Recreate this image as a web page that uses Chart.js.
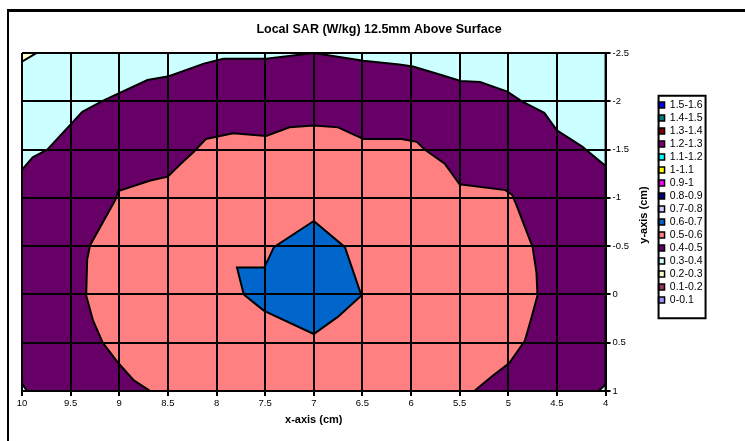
<!DOCTYPE html>
<html>
<head>
<meta charset="utf-8">
<title>Local SAR</title>
<script src="https://cdn.jsdelivr.net/npm/chart.js@4.4.1/dist/chart.umd.min.js"></script>
<style>
  html, body { margin: 0; padding: 0; background: #fff; }
  #wrap { position: relative; width: 745px; height: 441px; overflow: hidden; }
  #frame { position: absolute; left: 7px; top: 9px; right: -10px; bottom: -10px; border-top: 3px solid #000; border-left: 2px solid #000; pointer-events: none; }
</style>
</head>
<body>
<div id="wrap">
  <canvas id="sar-chart" width="745" height="441"></canvas>
  <div id="frame"></div>
</div>
<script>
// textos
const chartTitle = 'Local SAR (W/kg) 12.5mm Above Surface';
const xTitle = 'x-axis (cm)';
const yTitle = 'y-axis (cm)';

// eixos
const xTicks = [4, 4.5, 5, 5.5, 6, 6.5, 7, 7.5, 8, 8.5, 9, 9.5, 10];
const xTickLabels = ['4', '4.5', '5', '5.5', '6', '6.5', '7', '7.5', '8', '8.5', '9', '9.5', '10'];
const yTicks = [-2.5, -2, -1.5, -1, -0.5, 0, 0.5, 1];
const yTickLabels = ['-2.5', '-2', '-1.5', '-1', '-0.5', '0', '0.5', '1'];

// faixas da legenda (de cima para baixo)
const legendLabels = ['1.5-1.6', '1.4-1.5', '1.3-1.4', '1.2-1.3', '1.1-1.2', '1-1.1', '0.9-1', '0.8-0.9',
                      '0.7-0.8', '0.6-0.7', '0.5-0.6', '0.4-0.5', '0.3-0.4', '0.2-0.3', '0.1-0.2', '0-0.1'];
const legendColors = ['#0000FF', '#008080', '#800000', '#800080', '#00FFFF', '#FFFF00', '#FF00FF', '#000080',
                      '#CCCCFF', '#0066CC', '#FF8080', '#660066', '#CCFFFF', '#FFFFCC', '#993366', '#9999FF'];

// contornos (x em cm, y em cm)
// campo inteiro (faixa 0.3-0.4)
const fieldX = [10, 4, 4, 10];
const fieldY = [-2.5, -2.5, 1, 1];

// contorno 0.4 (borda superior da faixa 0.4-0.5)
const c04X = [10, 9.89, 9.74, 9.38, 9.16, 8.71, 8.49, 8.13, 7.93, 7.49, 7.0, 6.49, 6.12, 5.98, 5.68, 5.49, 5.29, 5.01, 4.86, 4.63, 4.5, 4.24, 4.0];
const c04Y = [-1.29, -1.42, -1.5, -1.89, -2.01, -2.22, -2.26, -2.39, -2.44, -2.44, -2.5, -2.42, -2.38, -2.36, -2.27, -2.21, -2.2, -2.1, -2.0, -1.88, -1.7, -1.53, -1.33];

// contorno 0.5
const c05X = [8.68, 8.85, 9.01, 9.17, 9.27, 9.34, 9.33, 9.3, 9.04, 9.01, 8.68, 8.5, 8.37, 8.23, 8.11, 7.83, 7.49, 7.25, 7.0, 6.75, 6.49, 6.1, 5.94, 5.86, 5.65, 5.5, 5.03, 4.96, 4.91, 4.75, 4.71, 4.7, 4.77, 4.83, 4.99, 5.17, 5.35];
const c05Y = [1, 0.89, 0.71, 0.5, 0.27, 0.01, -0.36, -0.51, -0.98, -1.07, -1.18, -1.22, -1.35, -1.48, -1.61, -1.67, -1.64, -1.73, -1.75, -1.73, -1.61, -1.61, -1.58, -1.5, -1.35, -1.14, -1.08, -1.03, -0.91, -0.49, -0.22, 0.01, 0.27, 0.48, 0.71, 0.85, 1];

// contorno 0.6
const c06X = [7.0, 6.68, 6.51, 6.75, 7.0, 7.51, 7.61, 7.72, 7.79, 7.51, 7.47, 7.41];
const c06Y = [-0.76, -0.49, 0.01, 0.23, 0.41, 0.17, 0.09, 0.0, -0.28, -0.28, -0.36, -0.49];

// cantos
const cornerTopLeftX = [10, 9.85, 10];
const cornerTopLeftY = [-2.5, -2.5, -2.41];
const cornerBottomLeftX = [10, 9.95, 10];
const cornerBottomLeftY = [0.92, 1, 1];
const cornerBottomRightX = [4, 4.07, 4];
const cornerBottomRightY = [0.93, 1, 1];

function colorOf(label) {
    return legendColors[legendLabels.indexOf(label)];
}

// monta o polígono fechado a partir dos arrays
function polygon(xs, ys) {
    const pts = xs.map((x, i) => ({x: x, y: ys[i]}));
    pts.push(pts[0]);
    return pts;
}

function region(label, pts, order) {
    return {
        label: label,
        data: pts,
        backgroundColor: colorOf(label),
        borderColor: '#000',
        borderWidth: 2,
        pointRadius: 0,
        tension: 0,
        fill: 'shape',
        order: order
    };
}

const font = '"Liberation Sans", Arial, sans-serif';
Chart.defaults.font.family = font;
Chart.defaults.color = '#000';

// título do eixo y (lido de baixo para cima)
const yTitlePlugin = {
    id: 'yTitle',
    afterDraw(chart) {
        const s = chart.scales.y;
        const ctx = chart.ctx;
        ctx.save();
        ctx.translate(s.left + 38, (s.top + s.bottom) / 2 - 7);
        ctx.rotate(-Math.PI / 2);
        ctx.font = 'bold 11px ' + font;
        ctx.fillStyle = '#000';
        ctx.textAlign = 'center';
        ctx.textBaseline = 'middle';
        ctx.fillText(yTitle, 0, 0);
        ctx.restore();
    }
};

// moldura da legenda
const legendFramePlugin = {
    id: 'legendFrame',
    afterDraw(chart) {
        const boxes = chart.legend && chart.legend.legendHitBoxes;
        if (!boxes || !boxes.length) return;
        const first = boxes[0];
        const last = boxes[boxes.length - 1];
        const ctx = chart.ctx;
        const top = first.top - 4;
        ctx.save();
        ctx.strokeStyle = '#000';
        ctx.lineWidth = 2;
        ctx.strokeRect(first.left, top, 47, last.top + last.height + 13 - top);
        ctx.restore();
    }
};

const ctx = document.getElementById('sar-chart').getContext('2d');
const chart = new Chart(ctx, {
    type: 'line',
    data: {
        datasets: [
            region('0.3-0.4', polygon(fieldX, fieldY), 6),
            region('0.4-0.5', polygon(c04X.concat([4, 10]), c04Y.concat([1, 1])), 5),
            region('0.5-0.6', polygon(c05X, c05Y), 4),
            region('0.6-0.7', polygon(c06X, c06Y), 3),
            region('0.2-0.3', polygon(cornerTopLeftX, cornerTopLeftY), 2),
            region('0.3-0.4', polygon(cornerBottomLeftX, cornerBottomLeftY), 1),
            region('0.3-0.4', polygon(cornerBottomRightX, cornerBottomRightY), 1)
        ]
    },
    options: {
        responsive: false,
        animation: false,
        events: [],
        layout: {
            padding: {left: 22, right: 9, top: 8, bottom: 13}
        },
        plugins: {
            title: {
                display: true,
                text: chartTitle,
                font: {size: 12.5, weight: 'bold'},
                color: '#000',
                padding: {top: 14, bottom: 16}
            },
            legend: {
                display: true,
                position: 'right',
                align: 'start',
                title: {
                    display: true,
                    text: '',
                    font: {size: 10},
                    padding: {top: 77.25, bottom: 0}
                },
                labels: {
                    boxWidth: 6,
                    boxHeight: 6,
                    padding: 2.5,
                    font: {size: 10.5},
                    color: '#000',
                    generateLabels: () => legendLabels.map((text, i) => ({
                        text: text,
                        fillStyle: legendColors[i],
                        strokeStyle: '#000',
                        lineWidth: 1.5,
                        hidden: false,
                        datasetIndex: 0
                    }))
                }
            },
            tooltip: {enabled: false}
        },
        scales: {
            x: {
                type: 'linear',
                position: 'bottom',
                reverse: true,
                min: 4,
                max: 10,
                afterBuildTicks: s => { s.ticks = xTicks.map(v => ({value: v})); },
                afterFit: s => { s.height = 37; },
                ticks: {
                    autoSkip: false,
                    maxRotation: 0,
                    padding: 2,
                    font: {size: 9.5},
                    color: '#000',
                    z: 2,
                    callback: (value, i) => xTickLabels[i]
                },
                grid: {color: '#000', lineWidth: 2, tickLength: 5, z: 1},
                border: {color: '#000', width: 2, z: 2},
                title: {
                    display: true,
                    text: xTitle,
                    font: {size: 11, weight: 'bold'},
                    color: '#000',
                    padding: {top: 0, bottom: 1}
                }
            },
            y: {
                type: 'linear',
                position: 'right',
                reverse: true,
                min: -2.5,
                max: 1,
                afterBuildTicks: s => { s.ticks = yTicks.map(v => ({value: v})); },
                afterFit: s => { s.width = 50.5; },
                ticks: {
                    autoSkip: false,
                    padding: 2,
                    font: {size: 9.5},
                    color: '#000',
                    z: 2,
                    callback: (value, i) => yTickLabels[i]
                },
                grid: {color: '#000', lineWidth: 2, tickLength: 5, z: 1},
                border: {color: '#000', width: 2, z: 2}
            },
            // espaço à direita da legenda
            margem: {
                type: 'linear',
                position: 'right',
                weight: 2000,
                display: true,
                afterFit: s => { s.width = 23.5; },
                ticks: {display: false},
                grid: {display: false},
                border: {display: false}
            }
        }
    },
    plugins: [yTitlePlugin, legendFramePlugin]
});
</script>
</body>
</html>
